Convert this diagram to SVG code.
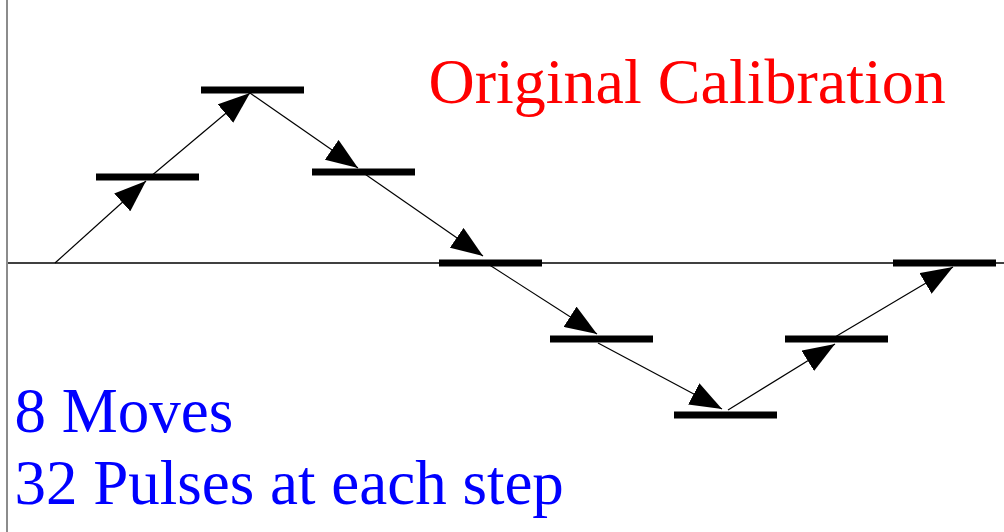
<svg xmlns="http://www.w3.org/2000/svg" width="1004" height="532" viewBox="0 0 1004 532">
<style>
.axis{stroke:#000;stroke-width:1.4;fill:none}
.vaxis{stroke:#666;stroke-width:1.5;fill:none}
.bar{fill:#000}
.conn{stroke:#000;stroke-width:1.2;fill:none;marker-end:url(#ah)}
.lbl{font-family:"Liberation Serif","Times New Roman",serif}
</style>
<defs>
<marker id="ah" viewBox="0 0 32 24" markerWidth="32" markerHeight="24" refX="32" refY="12" orient="auto" markerUnits="userSpaceOnUse">
<path d="M0,0 L32,12 L0,24 z" fill="#000"/>
</marker>
</defs>
<rect width="1004" height="532" fill="#fff"/>
<g id="axes">
<line class="vaxis" x1="7" y1="0" x2="7" y2="532"/>
<line class="axis" x1="8" y1="263" x2="1004" y2="263"/>
</g>
<g id="connectors">
<line class="conn" x1="55" y1="263" x2="146" y2="181"/>
<line class="conn" x1="150" y1="177" x2="250" y2="93"/>
<line class="conn" x1="250" y1="93" x2="358" y2="168"/>
<line class="conn" x1="362" y1="172" x2="483" y2="256"/>
<line class="conn" x1="488" y1="264" x2="597" y2="334"/>
<line class="conn" x1="598" y1="343" x2="722" y2="409"/>
<line class="conn" x1="728" y1="410" x2="835" y2="344"/>
<line class="conn" x1="835" y1="337" x2="953" y2="267"/>
</g>
<g id="step1"><rect class="bar" x="96" y="173.5" width="103" height="7"/></g>
<g id="step2"><rect class="bar" x="201" y="86.5" width="103" height="7"/></g>
<g id="step3"><rect class="bar" x="312" y="168.5" width="103" height="7"/></g>
<g id="step4"><rect class="bar" x="439" y="259.5" width="103" height="7"/></g>
<g id="step5"><rect class="bar" x="550" y="335.5" width="103" height="7"/></g>
<g id="step6"><rect class="bar" x="674" y="411.5" width="103" height="7"/></g>
<g id="step7"><rect class="bar" x="785" y="335.5" width="103" height="7"/></g>
<g id="step8"><rect class="bar" x="893" y="259.5" width="103" height="7"/></g>
<g id="title"><text class="lbl" x="428.5" y="103" font-size="64" fill="#ff0000">Original Calibration</text></g>
<g id="notes">
<text class="lbl" x="14.5" y="432" font-size="63" fill="#0000ff">8 Moves</text>
<text class="lbl" x="14.5" y="504" font-size="63" fill="#0000ff">32 Pulses at each step</text>
</g>
</svg>
